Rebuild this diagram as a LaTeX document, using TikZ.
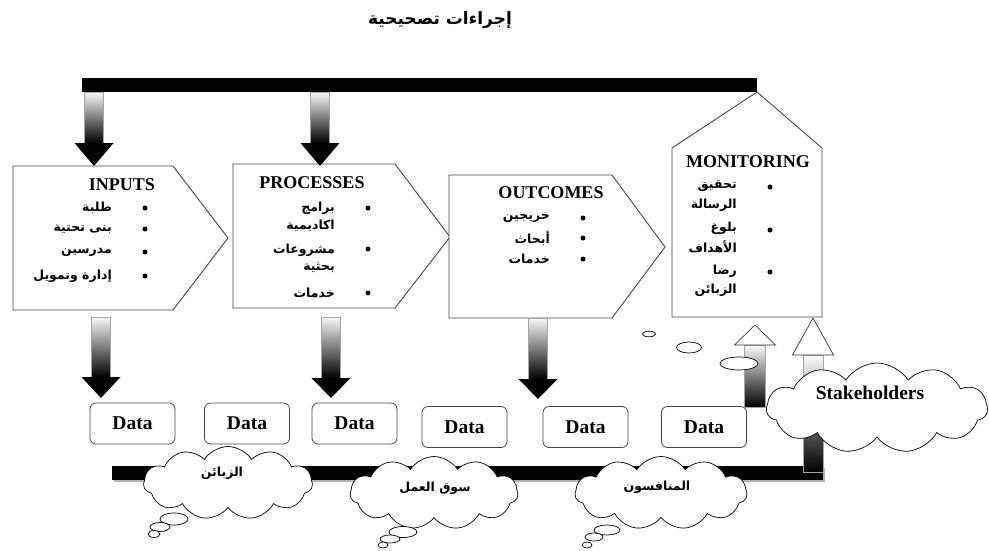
\documentclass[tikz,border=0pt]{standalone}
\usepackage{fontspec}
\setmainfont{Liberation Serif}
\newfontfamily\ar[Script=Arabic]{DejaVu Sans}
\TeXXeTstate=1
\usetikzlibrary{shapes.symbols}
\newcommand{\ArT}[1]{\beginR #1\endR}
\newcommand{\DownArr}[5]{% x, top, head top, tip, name
  \coordinate (#5s) at (#1,#2);
  \coordinate (#5e) at (#1,#4);
  \shade[top color=gray!5, bottom color=black, draw=gray!70] ({#1-9.5},#2) rectangle ({#1+9.5},#3);
  \fill[black] ({#1-19.5},#3) -- ({#1+19.5},#3) -- (#5e) -- cycle;
}
\newcommand{\UpArr}[6]{% x, bottom, head base, tip, half shaft, name
  \coordinate (#6s) at (#1,#2);
  \coordinate (#6e) at (#1,#4);
  \shade[top color=gray!3, bottom color=black, draw=gray!70] ({#1-#5},#2) rectangle ({#1+#5},#3);
  \draw[fill=white, draw=gray!40!black, line width=0.7pt] ({#1-20.5},#3) -- ({#1+20.5},#3) -- (#6e) -- cycle;
}
\begin{document}
\begin{tikzpicture}[x=1pt,y=-1pt,
  outl/.style={draw=gray!55!black, line width=0.9pt, fill=white},
  ttl/.style={font=\fontsize{18}{18}\selectfont\bfseries, inner sep=0pt},
  arfont/.style={font=\ar\bfseries\fontsize{12.5}{14}\selectfont},
  art/.style={arfont, anchor=east, inner sep=0pt},
  bul/.style={circle, fill=black, inner sep=0pt, minimum size=5pt},
  databox/.style={draw=gray!55!black, line width=0.8pt, rounded corners=6pt, minimum width=85pt, minimum height=41pt, font=\fontsize{19.5}{19.5}\selectfont\bfseries, fill=white},
  cl/.style={cloud, cloud puffs=11, cloud puff arc=115, cloud ignores aspect, draw=black, line width=0.7pt, fill=white, inner sep=0pt},
  bub/.style={draw=black, line width=0.7pt, fill=white}]
\useasboundingbox (0,0) rectangle (989,550);

% title
\node[font=\ar\bfseries\fontsize{17}{17}\selectfont] (title) at (440,20) {\ArT{إجراءات تصحيحية}};

% top bar
\fill[black] (82,78) rectangle (757,92);
\coordinate (barL) at (82,85);
\coordinate (barR) at (757,92);

% pentagons
\draw[outl] (13,166) -- (173,166) -- (228,238) -- (173,310) -- (13,310) -- cycle;
\draw[outl] (233,164) -- (395,164) -- (450,237) -- (395,308) -- (233,308) -- cycle;
\draw[outl] (449,175) -- (612,175) -- (665,247) -- (612,318) -- (449,318) -- cycle;
\draw[outl] (barR) -- (822,148) -- (822,317) -- (672,317) -- (672,148) -- cycle;

% arrows from the top bar
\DownArr{94}{92}{143}{166}{a1}
\DownArr{320}{92}{143}{166}{a2}

% INPUTS
\node[ttl] (tin) at (122,185) {INPUTS};
\foreach \y/\t [count=\i] in {208/طلبة,229/بنى تحتية,252/مدرسين,276/إدارة وتمويل}{
  \node[art] (in\i) at (112,\y) {\ArT{\t}};
  \node[bul] (bin\i) at (145,\y) {};
}
% PROCESSES
\node[ttl] (tpr) at (312,183) {PROCESSES};
\node[art] (pr1) at (335,208) {\ArT{برامج}};
\node[art] (pr1b) at (335,226) {\ArT{اكاديمية}};
\node[art] (pr2) at (335,250) {\ArT{مشروعات}};
\node[art] (pr2b) at (335,268) {\ArT{بحثية}};
\node[art] (pr3) at (335,293) {\ArT{خدمات}};
\foreach \y [count=\i] in {208,249,293}{ \node[bul] (bpr\i) at (368,\y) {}; }
% OUTCOMES
\node[ttl] (tou) at (551,193) {OUTCOMES};
\foreach \y/\t [count=\i] in {218/خريجين,238/أبحاث,259/خدمات}{
  \node[art] (ou\i) at (550,\y) {\ArT{\t}};
  \node[bul] (bou\i) at (583,\y) {};
}
% MONITORING
\node[ttl] (tmo) at (748,162) {MONITORING};
\node[art] (mo1) at (737,186) {\ArT{تحقيق}};
\node[art] (mo1b) at (737,205) {\ArT{الرسالة}};
\node[art] (mo2) at (737,228) {\ArT{بلوغ}};
\node[art] (mo2b) at (737,247) {\ArT{الأهداف}};
\node[art] (mo3) at (737,271) {\ArT{رضا}};
\node[art] (mo3b) at (737,290) {\ArT{الزبائن}};
\foreach \y [count=\i] in {187,230,272}{ \node[bul] (bmo\i) at (770,\y) {}; }

% arrows to data
\DownArr{101}{317}{377}{398}{d1}
\DownArr{331}{317}{378}{398}{d2}
\DownArr{538}{318}{379}{399}{d3}

% bottom bar and right riser
\fill[gray!60] (114,468) rectangle (825,482);
\fill[black] (112,466) rectangle (823,480);
\UpArr{813}{472}{355}{318}{10}{u2}
\UpArr{755}{407}{345}{325}{10.5}{u1}

% data boxes
\node[databox] (D1) at (132.5,423.5) {Data};
\node[databox] (D2) at (247,423.5) {Data};
\node[databox] (D3) at (354.5,423.5) {Data};
\node[databox] (D4) at (464.5,427) {Data};
\node[databox] (D5) at (585.5,427) {Data};
\node[databox] (D6) at (704,427) {Data};

% small bubbles near monitoring
\draw[bub] (649,334) ellipse [x radius=6.5, y radius=2.8];
\draw[bub] (689,347.5) ellipse [x radius=12.5, y radius=5.5];
\draw[bub] (739,363.5) ellipse [x radius=19, y radius=6.5];

% clouds
\node[cl, minimum width=221pt, minimum height=90pt] (stk) at (877,408) {};
\node[font=\fontsize{19.5}{19.5}\selectfont\bfseries] (stkt) at (870,393) {Stakeholders};

\node[cl, minimum width=169pt, minimum height=73pt] (c1) at (228,483) {};
\node[arfont] (c1t) at (222,473) {\ArT{الزبائن}};
\draw[bub] (174,519) ellipse [x radius=14, y radius=6];
\draw[bub] (160,527) ellipse [x radius=10, y radius=4.5];
\draw[bub] (154,534) ellipse [x radius=6, y radius=3.5];

\node[cl, minimum width=168pt, minimum height=73pt] (c2) at (434,493) {};
\node[arfont] (c2t) at (435,488) {\ArT{سوق العمل}};
\draw[bub] (403,532) ellipse [x radius=14, y radius=5.5];
\draw[bub] (390,539) ellipse [x radius=10, y radius=4];
\draw[bub] (383,545) ellipse [x radius=5, y radius=3];

\node[cl, minimum width=172pt, minimum height=73pt] (c3) at (661,493) {};
\node[arfont] (c3t) at (657,487) {\ArT{المنافسون}};
\draw[bub] (607,530) ellipse [x radius=13, y radius=5];
\draw[bub] (594,537) ellipse [x radius=9, y radius=4];
\draw[bub] (587,545) ellipse [x radius=5, y radius=3];
\end{tikzpicture}
\end{document}
